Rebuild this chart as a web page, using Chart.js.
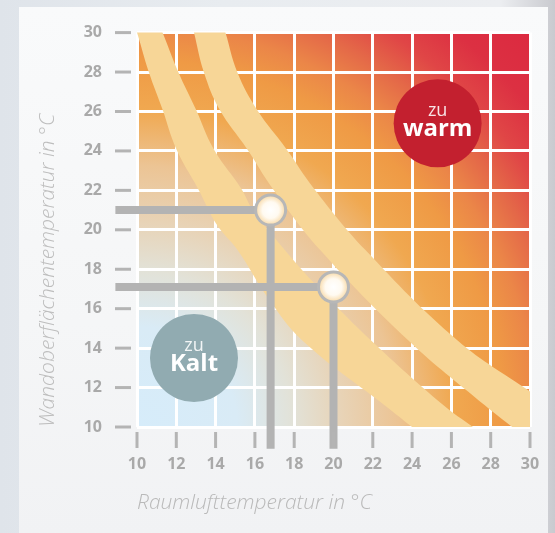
<!DOCTYPE html>
<html>
<head>
<meta charset="utf-8">
<title>Behaglichkeitsfeld</title>
<script src="https://cdn.jsdelivr.net/npm/chart.js@4.4.1/dist/chart.umd.min.js"></script>
<style>
  html, body { margin: 0; padding: 0; }
  body {
    width: 555px; height: 533px; position: relative; overflow: hidden;
    background: linear-gradient(90deg, #dfe4ea 0%, #e8ecf0 40%, #eceef1 90%, #c9cacf 100%);
  }
  #card {
    position: absolute; left: 19px; top: 7px; width: 529px; height: 526px;
    background: linear-gradient(180deg, #f9fafb 0%, #f5f6f7 60%, #f1f2f4 100%);
  }
  /* canvas is a bit larger than the page: Chart.js reserves tick padding at top/right */
  #wrap { position: absolute; left: 0; top: -12px; width: 574px; height: 545px; }
</style>
</head>
<body>
<div id="card"></div>
<div id="wrap"><canvas id="chart" width="574" height="545"></canvas></div>
<script>
// axis ticks and titles
const tickValues = [10, 12, 14, 16, 18, 20, 22, 24, 26, 28, 30];
const xTitle = 'Raumlufttemperatur in °C';
const yTitle = 'Wandoberflächentemperatur in °C';

// comfort bands, edges (top to bottom)
const band1LowerX = [9.6, 10.0, 10.6, 11.3, 12.0, 13.1, 14.1, 15.1, 16.7, 18.4, 22.6, 24.0, 25.3];
const band1LowerY = [31.2, 30.0, 28.0, 26.1, 24.1, 22.1, 20.2, 19.0, 16.5, 14.4, 11.1, 10.0, 9.0];
const band1UpperX = [10.8, 11.3, 12.1, 13.0, 13.9, 15.3, 15.9, 17.5, 19.2, 21.9, 25.6, 27.1, 28.5];
const band1UpperY = [31.2, 30.0, 28.0, 26.1, 24.1, 22.1, 21.0, 19.0, 17.1, 14.4, 11.1, 10.0, 9.0];
const band2LowerX = [12.6, 12.9, 13.4, 14.2, 15.6, 16.9, 19.3, 23.8, 27.7, 29.1, 30.4];
const band2LowerY = [31.2, 30.0, 28.0, 26.1, 24.1, 22.1, 19.0, 14.4, 11.1, 10.0, 9.0];
const band2UpperX = [14.1, 14.5, 15.1, 16.1, 17.6, 19.0, 21.6, 26.3, 30.0, 31.3];
const band2UpperY = [31.2, 30.0, 28.0, 26.1, 24.1, 22.1, 19.0, 14.4, 11.8, 10.9];

// two example readings (air temperature, wall temperature)
const readAir = [16.8, 20.0];
const readWall = [21.0, 17.1];

// "zu warm" / "zu Kalt" zones
const zonePrefix = 'zu';
const zoneWords = ['warm', 'Kalt'];
const zoneX = [25.3, 12.9];
const zoneY = [25.4, 13.5];
const zoneColors = ['#c3202f', '#91abb1'];

const guideEnd = 8.9; // guides run out to the end of the tick marks

Chart.defaults.font.family = '"Open Sans", sans-serif';

function points(xs, ys) {
  return xs.map((x, i) => ({ x, y: ys[i] }));
}

// closed outline of a band; starts left of the plot and ends right of it,
// the closing edge runs above the plot so the filler clip covers everything
function bandShape(lowerX, lowerY, upperX, upperY) {
  const lower = points(lowerX, lowerY);
  const upper = points(upperX, upperY).reverse();
  const above = 32.6;
  return [
    { x: 9.3, y: above },
    { x: lower[0].x, y: above },
    ...lower,
    ...upper,
    { x: upper[upper.length - 1].x, y: above },
    { x: 30.9, y: above }
  ];
}

function guide(i) {
  return [
    { x: guideEnd, y: readWall[i] },
    { x: readAir[i], y: readWall[i] },
    { x: readAir[i], y: guideEnd }
  ];
}

// soft glow inside the reading markers
function markerGlow(ctx) {
  if (ctx.type !== 'data' || !ctx.raw) return '#fffaf1';
  const chart = ctx.chart;
  const px = chart.scales.x.getPixelForValue(ctx.raw.x);
  const py = chart.scales.y.getPixelForValue(ctx.raw.y);
  if (!isFinite(px) || !isFinite(py)) return '#fffaf1';
  const g = chart.ctx.createRadialGradient(px, py, 0, px, py, 15);
  g.addColorStop(0, '#ffffff');
  g.addColorStop(0.55, '#fffaf1');
  g.addColorStop(1, '#f8d9a6');
  return g;
}

const plotBackground = {
  id: 'plotBackground',
  beforeDraw(chart) {
    const { ctx, chartArea: a } = chart;
    const r = Math.hypot(a.right - a.left, a.bottom - a.top);
    const g = ctx.createRadialGradient(a.left, a.bottom, 0, a.left, a.bottom, r);
    g.addColorStop(0, '#d6ecfa');
    g.addColorStop(0.18, '#d9ebf6');
    g.addColorStop(0.28, '#e2e2d8');
    g.addColorStop(0.37, '#e8d3b6');
    g.addColorStop(0.47, '#ecc494');
    g.addColorStop(0.57, '#f0a850');
    g.addColorStop(0.66, '#ef9a45');
    g.addColorStop(0.72, '#eb8648');
    g.addColorStop(0.78, '#e46848');
    g.addColorStop(0.84, '#e04646');
    g.addColorStop(0.91, '#dc3042');
    g.addColorStop(1, '#dc2a40');
    ctx.save();
    ctx.fillStyle = g;
    ctx.fillRect(a.left, a.top, a.right - a.left, a.bottom - a.top);
    ctx.restore();
  }
};

const tickMarks = {
  id: 'tickMarks',
  afterDraw(chart) {
    const { ctx, chartArea, scales } = chart;
    ctx.save();
    ctx.strokeStyle = '#b4b4b4';
    ctx.lineWidth = 3;
    tickValues.forEach(v => {
      const y = scales.y.getPixelForValue(v);
      ctx.beginPath();
      ctx.moveTo(chartArea.left - 22, y);
      ctx.lineTo(chartArea.left - 6, y);
      ctx.stroke();
      const x = scales.x.getPixelForValue(v);
      ctx.beginPath();
      ctx.moveTo(x, chartArea.bottom + 5);
      ctx.lineTo(x, chartArea.bottom + 21);
      ctx.stroke();
    });
    ctx.restore();
  }
};

const zoneText = {
  id: 'zoneText',
  afterDatasetsDraw(chart) {
    const { ctx, scales } = chart;
    ctx.save();
    ctx.textAlign = 'center';
    ctx.textBaseline = 'alphabetic';
    zoneWords.forEach((word, i) => {
      const cx = scales.x.getPixelForValue(zoneX[i]);
      const cy = scales.y.getPixelForValue(zoneY[i]);
      ctx.fillStyle = 'rgba(255,255,255,0.88)';
      ctx.font = '18px "Open Sans"';
      ctx.fillText(zonePrefix, cx, cy - 7);
      ctx.fillStyle = '#ffffff';
      ctx.font = 'bold 24px "Open Sans"';
      ctx.fillText(word, cx, cy + 13);
    });
    ctx.restore();
  }
};

const bandStyle = {
  fill: 'shape',
  backgroundColor: '#f7d697',
  borderColor: 'transparent',
  borderWidth: 0,
  pointRadius: 0,
  tension: 0.4,
  order: 3
};

const guideStyle = {
  borderColor: '#b3b3b3',
  borderWidth: 8,
  borderCapStyle: 'butt',
  borderJoinStyle: 'miter',
  pointRadius: 0,
  tension: 0,
  fill: false,
  clip: false,
  order: 2
};

new Chart(document.getElementById('chart'), {
  type: 'line',
  data: {
    datasets: [
      {
        label: 'Messpunkte',
        data: points(readAir, readWall),
        showLine: false,
        pointRadius: 15,
        pointBorderWidth: 3,
        pointBorderColor: '#b7b7b7',
        pointBackgroundColor: markerGlow,
        order: 0
      },
      {
        label: 'Zonen',
        data: points(zoneX, zoneY),
        showLine: false,
        pointRadius: 44,
        pointBorderWidth: 0,
        pointBorderColor: zoneColors,
        pointBackgroundColor: zoneColors,
        order: 1
      },
      { label: 'Ablesung 1', data: guide(0), ...guideStyle },
      { label: 'Ablesung 2', data: guide(1), ...guideStyle },
      { label: 'Band 1', data: bandShape(band1LowerX, band1LowerY, band1UpperX, band1UpperY), ...bandStyle },
      { label: 'Band 2', data: bandShape(band2LowerX, band2LowerY, band2UpperX, band2UpperY), ...bandStyle }
    ]
  },
  options: {
    responsive: false,
    animation: false,
    events: [],
    layout: { padding: { top: 20, right: 20, left: 0, bottom: 0 } },
    elements: { line: { capBezierPoints: false } },
    plugins: { legend: { display: false }, tooltip: { enabled: false } },
    scales: {
      x: {
        type: 'linear',
        min: 10,
        max: 30,
        afterBuildTicks: scale => { scale.ticks = tickValues.map(v => ({ value: v })); },
        afterFit: scale => { scale.height = 106; },
        grid: { color: '#ffffff', lineWidth: 3, drawTicks: false },
        border: { display: false },
        ticks: { color: '#a9a9a9', padding: 28, font: { size: 16, weight: 'bold' } },
        title: {
          display: true,
          text: xTitle,
          align: 'start',
          color: '#b9b9b9',
          font: { size: 21, style: 'italic', weight: 300 },
          padding: { top: 0, bottom: 17 }
        }
      },
      y: {
        type: 'linear',
        min: 10,
        max: 30,
        afterBuildTicks: scale => { scale.ticks = tickValues.map(v => ({ value: v })); },
        afterFit: scale => { scale.width = 137; },
        grid: { color: '#ffffff', lineWidth: 3, drawTicks: false },
        border: { display: false },
        ticks: { color: '#a9a9a9', padding: 35, font: { size: 16, weight: 'bold' } },
        title: {
          display: true,
          text: yTitle,
          align: 'start',
          color: '#bdbdbd',
          font: { size: 21, style: 'italic', weight: 300 },
          padding: { top: 35, bottom: 0 }
        }
      }
    }
  },
  plugins: [plotBackground, tickMarks, zoneText]
});
</script>
</body>
</html>
